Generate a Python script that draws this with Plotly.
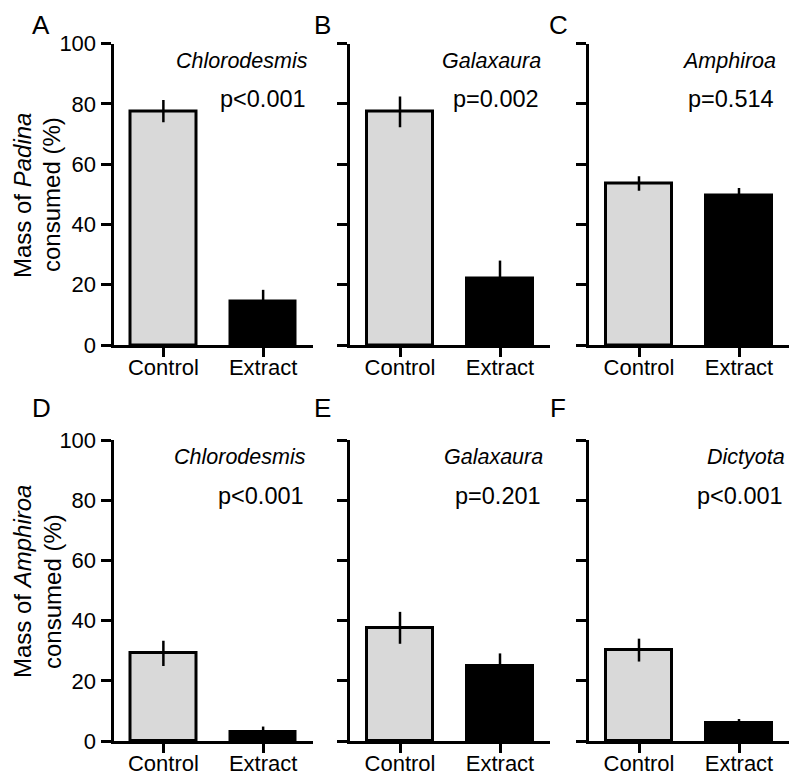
import plotly.graph_objects as go

# ---- data ----
categories = ["Control", "Extract"]
panel_letters = ["A", "B", "C", "D", "E", "F"]
species = ["Chlorodesmis", "Galaxaura", "Amphiroa", "Chlorodesmis", "Galaxaura", "Dictyota"]
p_values = ["p<0.001", "p=0.002", "p=0.514", "p<0.001", "p=0.201", "p<0.001"]
control_mean = [77.6, 77.3, 53.6, 29.1, 37.6, 30.2]
control_se = [3.7, 5.1, 2.4, 4.2, 5.3, 3.8]
extract_mean = [14.5, 22.1, 49.7, 3.1, 25.0, 6.1]
extract_se = [3.8, 5.9, 2.4, 1.7, 4.1, 1.2]
y_ticks = [0, 20, 40, 60, 80, 100]
row_titles = [("Mass of <i>Padina</i>", "consumed (%)"),
              ("Mass of <i>Amphiroa</i>", "consumed (%)")]

# ---- layout constants (pixels in the screenshot) ----
W, H = 800, 784
OFF = 8  # page body margin offset
col_px = [(113.5, 313.0), (350.0, 550.0), (589.0, 789.0)]
row_px = [(43.5, 345.0), (440.0, 741.0)]
letter_x = [41, 322, 558]
letter_y_bottom_row = 408
label_xshift = [1.47, 1.43, 1.39, 1.45, 1.45, 1.48]
title_px = [[(22, 196), (52, 195)], [(22, 582), (52, 592)]]
GRAY = "#d9d9d9"
FONT = "Arial, Liberation Sans, sans-serif"


def fx(px):
    return (px - OFF) / W


def fy(py):
    return 1 - (py - OFF) / H


fig = go.Figure()
layout = dict(width=W, height=H, margin=dict(l=0, r=0, t=0, b=0, autoexpand=False),
              plot_bgcolor="white", paper_bgcolor="white", showlegend=False,
              font=dict(family=FONT, color="black"), bargap=0)
annotations = []

for i in range(6):
    r, c = divmod(i, 3)
    ax = "" if i == 0 else str(i + 1)
    fig.add_trace(go.Bar(
        x=categories, y=[control_mean[i], extract_mean[i]],
        width=0.655,
        marker=dict(color=[GRAY, "black"], line=dict(color="black", width=3)),
        error_y=dict(type="data", array=[control_se[i], extract_se[i]],
                     color="black", thickness=2.5, width=0),
        xaxis="x" + ax, yaxis="y" + ax))
    x0, x1 = col_px[c]
    ytop, ybot = row_px[r]
    layout["xaxis" + ax] = dict(
        domain=[fx(x0), fx(x1)], anchor="y" + ax, range=[-0.5, 1.5],
        type="category", showline=True, linecolor="black", linewidth=3,
        ticks="outside", ticklen=9, tickwidth=3, tickcolor="black",
        ticklabelstandoff=-8,
        showgrid=False, zeroline=False, tickfont=dict(size=22, family=FONT),
        automargin=False, fixedrange=True)
    layout["yaxis" + ax] = dict(
        domain=[fy(ybot), fy(ytop)], anchor="x" + ax, range=[0, 100],
        tickvals=y_ticks, showline=True, linecolor="black", linewidth=3,
        ticks="outside", ticklen=10, tickwidth=3, tickcolor="black",
        showgrid=False, zeroline=False, showticklabels=(c == 0),
        tickfont=dict(size=22, family=FONT), automargin=False, fixedrange=True)
    annotations.append(dict(x=label_xshift[i], y=94.2, xref="x" + ax, yref="y" + ax,
                            text="<i>" + species[i] + "</i>", showarrow=False,
                            xanchor="right", yanchor="middle",
                            font=dict(size=21.5, family=FONT)))
    annotations.append(dict(x=label_xshift[i] - 0.02, y=81.5, xref="x" + ax, yref="y" + ax,
                            text=p_values[i], showarrow=False,
                            xanchor="right", yanchor="middle",
                            font=dict(size=23.5, family=FONT)))
    if r == 0:
        annotations.append(dict(x=fx(letter_x[c]), y=1.0, xref="paper", yref="paper",
                                text=panel_letters[i], showarrow=False,
                                xanchor="center", yanchor="top",
                                font=dict(size=26, family=FONT)))
    else:
        annotations.append(dict(x=fx(letter_x[c]), y=fy(letter_y_bottom_row),
                                xref="paper", yref="paper",
                                text=panel_letters[i], showarrow=False,
                                xanchor="center", yanchor="middle",
                                font=dict(size=26, family=FONT)))

for r in range(2):
    for k in range(2):
        xpx, ypx = title_px[r][k]
        annotations.append(dict(x=fx(xpx), y=fy(ypx), xref="paper", yref="paper",
                                text=row_titles[r][k], showarrow=False, textangle=-90,
                                xanchor="center", yanchor="middle",
                                font=dict(size=24, family=FONT)))

layout["annotations"] = annotations
fig.update_layout(**layout)
fig.write_html("out.html")
